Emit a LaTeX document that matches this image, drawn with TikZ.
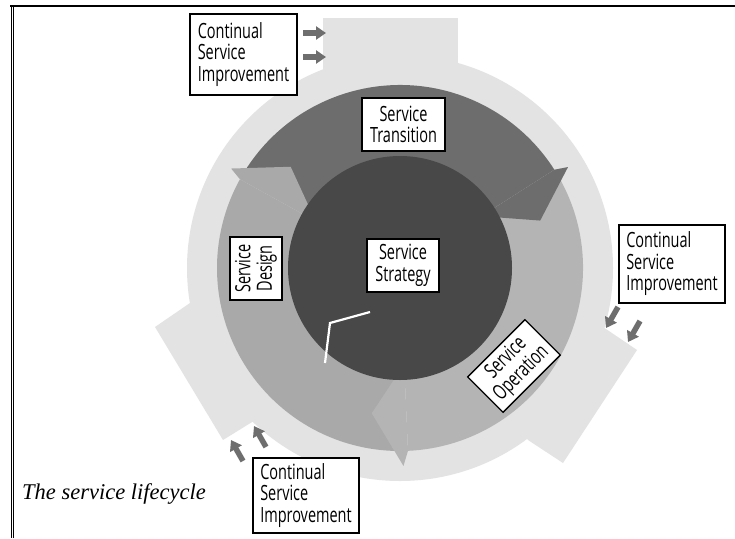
\documentclass[tikz,border=0pt]{standalone}
\usepackage{fontspec}
\usetikzlibrary{arrows.meta}
\newfontfamily\lblfont[FakeStretch=0.69]{Open Sans}
\newfontfamily\capfont{Liberation Serif}
\definecolor{ringlight}{HTML}{E3E3E3}
\definecolor{transcol}{HTML}{6D6D6D}
\definecolor{designcol}{HTML}{A9A9A9}
\definecolor{opercol}{HTML}{B4B4B4}
\definecolor{stratcol}{HTML}{484848}
\definecolor{arrowgray}{HTML}{6E6E6E}
\tikzset{
  lbl/.style={draw=black, line width=1.3pt, fill=white, inner sep=0pt,
    font=\lblfont\fontsize{21}{21.5}\selectfont},
  csiarrow/.style={draw=arrowgray, line width=5.5pt, -{Triangle[length=10pt,width=13pt]}},
}
\begin{document}
\begin{tikzpicture}[x=1pt,y=-1pt]
\useasboundingbox (0,0) rectangle (735,538);
\fill[white] (0,0) rectangle (735,538);
% page frame
\draw[line width=2pt] (10,5.5) -- (735,5.5);
\draw[line width=0.8pt] (11,5) -- (11,538);
\draw[line width=0.8pt] (13.6,5) -- (13.6,538);
% outer CSI ring with three tails
\fill[ringlight] (400,268) circle[radius=213pt];
\fill[ringlight] (323,18) -- (458,18) -- (458,110) -- (323,110) -- cycle;
\fill[ringlight] (603,327) -- (637,350) -- (563,463) -- (528,440) -- (500,400) -- (560,300) -- cycle;
\fill[ringlight] (190,303) -- (155,327) -- (223,440) -- (257,419) -- (280,400) -- (230,300) -- cycle;
% middle ring: three curved arrows
\begin{scope}[shift={(400,268)}, y=1pt]
  \fill[transcol] (149.5:183pt) arc[start angle=149.5, end angle=32.5, radius=183pt]
     -- (32.5:105pt) arc[start angle=32.5, end angle=149.5, radius=105pt] -- cycle;
  \fill[opercol] (31:183pt) arc[start angle=31, end angle=-87.5, radius=183pt]
     -- (-87.5:105pt) arc[start angle=-87.5, end angle=31, radius=105pt] -- cycle;
  \fill[designcol] (271:183pt) arc[start angle=271, end angle=151, radius=183pt]
     -- (151:105pt) arc[start angle=151, end angle=271, radius=105pt] -- cycle;
  % arrowheads
  \fill[transcol] (32.5:183pt) -- (31:196pt) -- (18.7:148pt) -- (31:100pt) -- (32.5:110pt) -- cycle;
  \fill[designcol] (151:183pt) -- (149.5:196pt) -- (137.2:149pt) -- (149.5:100pt) -- (151:110pt) -- cycle;
  \fill[opercol] (272.5:183pt) -- (271:198pt) -- (259:148pt) -- (271:100pt) -- (272.5:110pt) -- cycle;
  % inner strategy disc
  \fill[stratcol] (0,0) circle[radius=112pt];
\end{scope}
% white hook line in the centre
\coordinate (h1) at (370,312);
\coordinate (h2) at (330,323);
\coordinate (h3) at (325,363);
\draw[white, line width=2.2pt, line join=miter] (h1) -- (h2) -- (h3);
% CSI input arrows
\coordinate (ta1) at (303,33);  \coordinate (tb1) at (326,33);
\coordinate (ta2) at (303,57);  \coordinate (tb2) at (326,57);
\coordinate (ra1) at (618,307); \coordinate (rb1) at (606,328);
\coordinate (ra2) at (640,321); \coordinate (rb2) at (628,342);
\coordinate (la1) at (243,461); \coordinate (lb1) at (231,440);
\coordinate (la2) at (266,447); \coordinate (lb2) at (254,426);
\draw[csiarrow] (ta1) -- (tb1);
\draw[csiarrow] (ta2) -- (tb2);
\draw[csiarrow] (ra1) -- (rb1);
\draw[csiarrow] (ra2) -- (rb2);
\draw[csiarrow] (la1) -- (lb1);
\draw[csiarrow] (la2) -- (lb2);
% labels
\node[lbl, minimum width=107pt, minimum height=81pt, align=left] (csiTop) at (243.5,54.5) {Continual\\Service\\Improvement};
\node[lbl, minimum width=106pt, minimum height=78pt, align=left] (csiRight) at (672,264) {Continual\\Service\\Improvement};
\node[lbl, minimum width=106pt, minimum height=75pt, align=left] (csiBottom) at (306,495.5) {Continual\\Service\\Improvement};
\node[lbl, minimum width=83pt, minimum height=53pt, align=center] (transition) at (403.5,124.5) {Service\\Transition};
\node[lbl, minimum width=72pt, minimum height=53pt, align=center] (strategy) at (403,265.5) {Service\\Strategy};
\node[lbl, minimum width=63pt, minimum height=52pt, align=center, rotate=90] (design) at (256,268.5) {Service\\Design};
\node[lbl, minimum width=81pt, minimum height=50pt, align=center, rotate=45] (operation) at (514,366) {Service\\Operation};
% caption
\node[anchor=base west, inner sep=0pt, font=\capfont\itshape\fontsize{22.5}{26}\selectfont] (caption) at (22,499) {The service lifecycle};
\end{tikzpicture}
\end{document}
